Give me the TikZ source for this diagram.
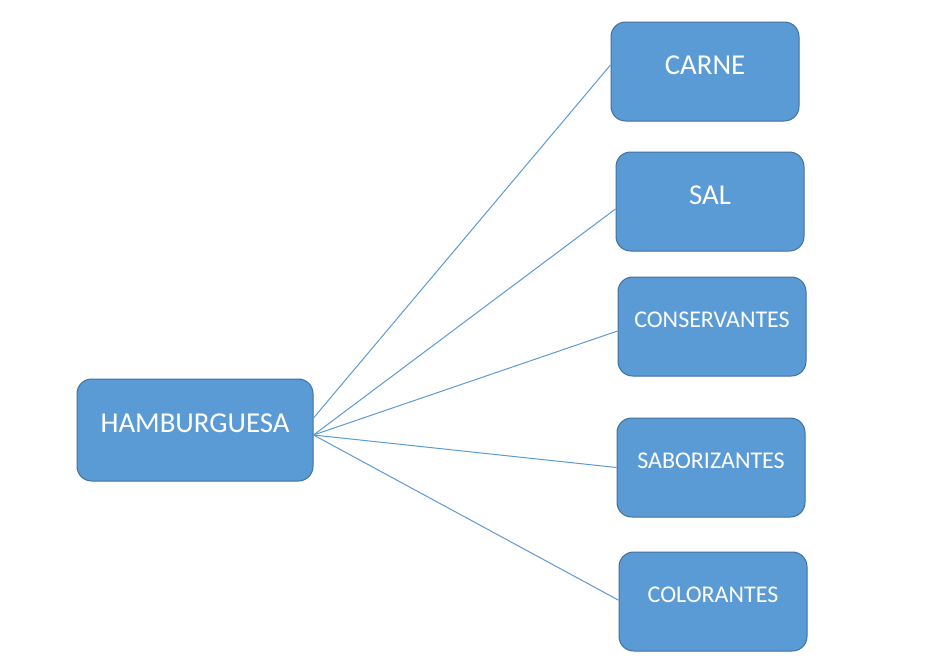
\documentclass[tikz,border=0pt]{standalone}
\usepackage{fontspec}
\setmainfont{Carlito}
\usepackage{xcolor}
\definecolor{boxblue}{HTML}{5B9BD5}
\definecolor{boxedge}{HTML}{41719C}

\begin{document}
\begin{tikzpicture}[x=0.75pt,y=-0.75pt,
		box/.style={draw=boxedge,fill=boxblue,rounded corners=11pt,text=white,inner sep=0pt,line width=0.75pt,minimum width=141pt,minimum height=74.25pt},
		big/.style={font=\fontsize{21.6}{26}\selectfont,text height=13pt,text depth=8.6pt},
		small/.style={font=\fontsize{18}{22}\selectfont,text height=11pt,text depth=9.2pt},
		link/.style={draw=boxblue,line width=0.75pt}]
		\useasboundingbox[fill=white] (0,0) rectangle (928,671);
		%%  Main box  %%%%%%%%
		\node[box,big,minimum width=177pt,minimum height=76.5pt] (ham) at (195,430) {HAMBURGUESA};
		%%  Ingredients  %%%%%%%%
		\node[box,big] (carne) at (705,71.5) {CARNE};
		\node[box,big] (sal) at (710,201.5) {SAL};
		\node[box,small] (cons) at (712,326.5) {CONSERVANTES};
		\node[box,small] (sabor) at (711,467.5) {SABORIZANTES};
		\node[box,small] (color) at (713,601.5) {COLORANTES};
		%%  Links  %%%%%%%%
		\draw[link] ([yshift=9pt]ham.east) -- ([yshift=4.9pt]carne.west);
		\draw[link] ([yshift=-3.75pt]ham.east) -- ([yshift=-5.6pt]sal.west);
		\draw[link] ([yshift=-3.75pt]ham.east) -- ([yshift=-3.4pt]cons.west);
		\draw[link] ([yshift=-3.75pt]ham.east) -- (sabor.west);
		\draw[link] ([yshift=-3.75pt]ham.east) -- ([yshift=1pt]color.west);
		%%%%%%%%%%%%%%%
\end{tikzpicture}
\end{document}
